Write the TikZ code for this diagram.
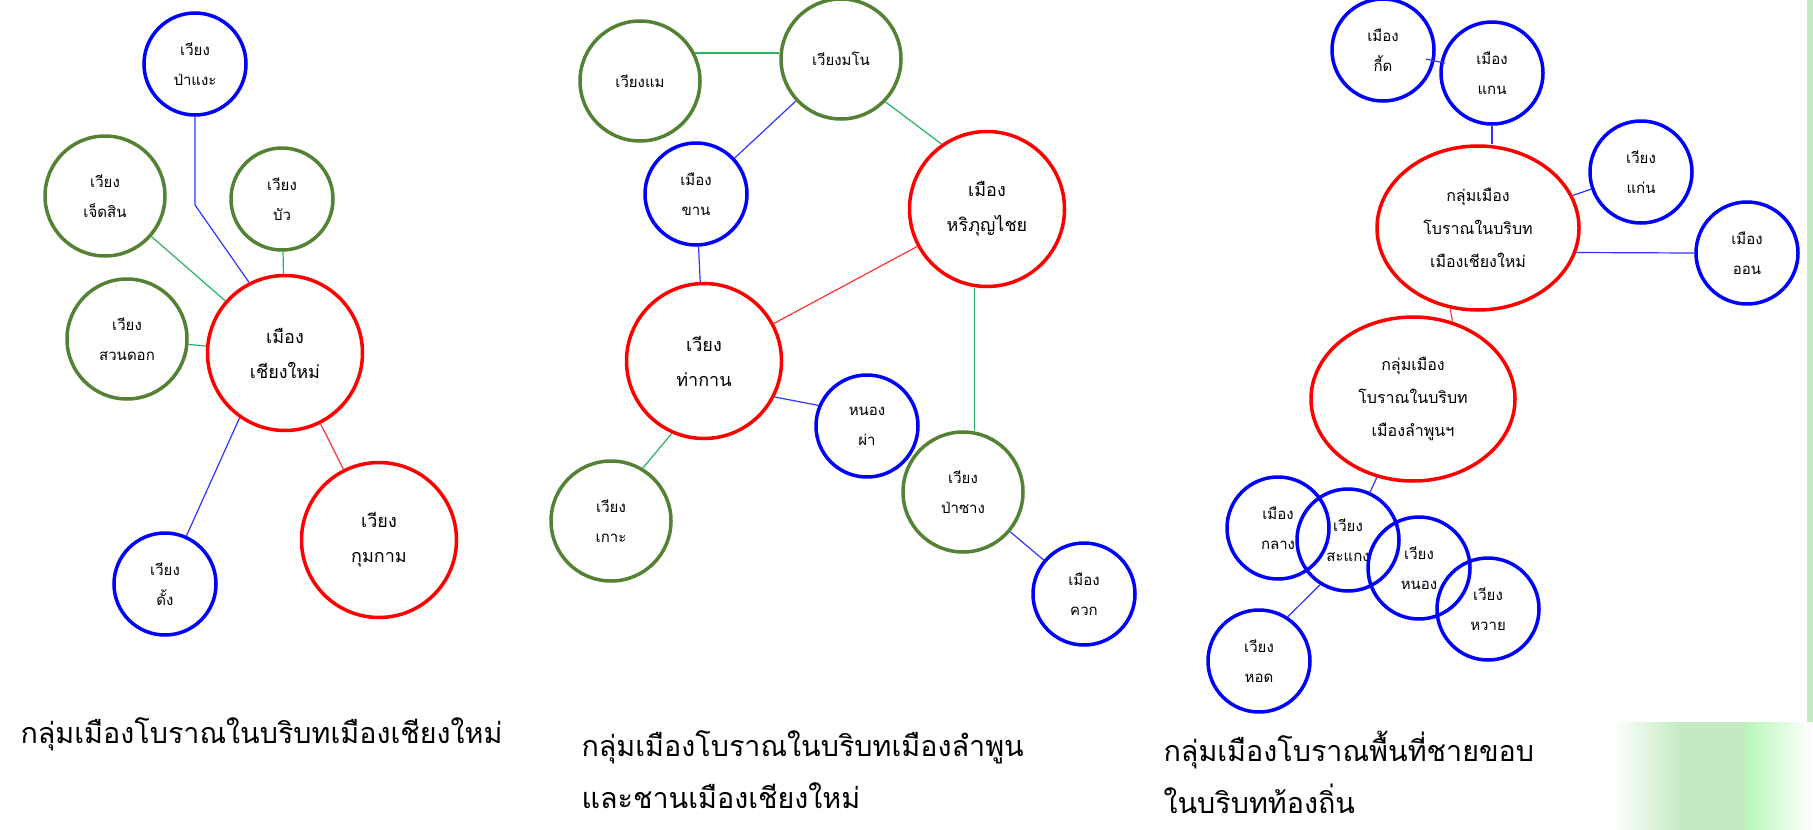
\documentclass[tikz,border=0pt]{standalone}
\usepackage{fontspec}
\newfontfamily\thaifont[Script=Thai]{Loma}
\usetikzlibrary{shapes.geometric}

\definecolor{cityred}{RGB}{255,0,0}
\definecolor{cityblue}{RGB}{0,0,255}
\definecolor{cityolive}{RGB}{84,130,53}
\definecolor{linkgreen}{RGB}{40,180,100}
\definecolor{leaf}{RGB}{196,234,196}

\begin{document}
\begin{tikzpicture}[
    x=1pt, y=-1pt,
    % Styles
    town/.style={circle, line width=3.5pt, inner sep=0pt, align=center, font=\thaifont\fontsize{15}{30}\selectfont},
    minor/.style={town, draw=cityblue, minimum size=102pt},
    satellite/.style={town, draw=cityolive, minimum size=120pt},
    capital/.style={town, draw=cityred, minimum size=155pt, font=\thaifont\fontsize{18}{35}\selectfont},
    cluster/.style={ellipse, draw=cityred, line width=3.5pt, inner sep=0pt, minimum width=202pt, minimum height=164pt, align=center, font=\thaifont\fontsize{16}{33}\selectfont},
    bluelink/.style={cityblue!80, line width=1.2pt},
    greenlink/.style={linkgreen, line width=1.2pt},
    redlink/.style={cityred!80, line width=1.2pt},
    caption/.style={anchor=west, align=left, font=\thaifont\fontsize{28.7}{52}\selectfont},
]

% Page and leaf decoration
\fill[white] (0,0) rectangle (1813,830);
\useasboundingbox (0,0) rectangle (1813,830);
\fill[leaf] (1807,0) rectangle (1813,722);
\shade[left color=white, right color=leaf] (1613,722) rectangle (1680,830);
\fill[leaf] (1680,722) rectangle (1745,830);
\shade[left color=leaf!70!green!60!white, right color=white] (1745,722) rectangle (1813,830);

% LEFT: Chiang Mai
\node[minor] (pangae) at (195,64) {เวียง\\ป่าแงะ};
\node[satellite] (chetsin) at (105,196) {เวียง\\เจ็ดสิน};
\node[satellite, minimum size=102pt] (bua) at (282,199) {เวียง\\บัว};
\node[satellite] (suandok) at (127,339) {เวียง\\สวนดอก};
\node[capital] (chiangmai) at (285,353) {เมือง\\เชียงใหม่};
\node[minor] (dang) at (165,584) {เวียง\\ดั้ง};
\node[capital] (kumkam) at (379,540) {เวียง\\กุมกาม};

\coordinate (pangae-bend) at (195,205);
\draw[bluelink] (pangae.south) -- (pangae-bend) -- (chiangmai.117);
\draw[greenlink] (chetsin) -- (chiangmai);
\draw[greenlink] (bua) -- (chiangmai);
\draw[greenlink] (suandok) -- (chiangmai);
\draw[bluelink] (chiangmai.235) -- (dang.66);
\draw[redlink] (chiangmai) -- (kumkam);

% MIDDLE: Lamphun and Chiang Mai outskirts
\node[satellite] (wiangmae) at (640,81) {เวียงแม};
\node[satellite] (wiangmano) at (841,59) {เวียงมโน};
\node[minor] (khan) at (696,194) {เมือง\\ขาน};
\node[capital] (hariphun) at (987,209) {เมือง\\หริภุญไชย};
\node[capital] (thakan) at (704,361) {เวียง\\ท่ากาน};
\node[minor] (nongpha) at (867,426) {หนอง\\ผ่า};
\node[satellite] (koh) at (611,521) {เวียง\\เกาะ};
\node[satellite] (pasang) at (963,492) {เวียง\\ป่าซาง};
\node[minor] (khuak) at (1084,594) {เมือง\\ควก};

\draw[greenlink] (wiangmae.27) -- (wiangmae.27 -| wiangmano.west);
\draw[bluelink] (wiangmano) -- (khan);
\draw[greenlink] (wiangmano.-44) -- (hariphun.125);
\draw[bluelink] (khan) -- (thakan);
\draw[redlink] (hariphun) -- (thakan);
\draw[greenlink] (pasang.79) -- (pasang.79 |- hariphun.south);
\draw[bluelink] (thakan.-27) -- (nongpha.157);
\draw[greenlink] (thakan.246) -- (koh.59);
\draw[bluelink] (pasang) -- (khuak);

% RIGHT: local margins
\node[minor] (kid) at (1383,50) {เมือง\\กี้ด};
\node[minor] (kaen) at (1492,73) {เมือง\\แกน};
\node[minor] (kaeng) at (1641,172) {เวียง\\แก่น};
\node[minor] (muangon) at (1747,253) {เมือง\\ออน};
\node[cluster] (cmgroup) at (1478,228) {กลุ่มเมือง\\โบราณในบริบท\\เมืองเชียงใหม่};
\node[cluster, minimum width=204pt] (lamphun) at (1413,399) {กลุ่มเมือง\\โบราณในบริบท\\เมืองลำพูนฯ};
\node[minor] (klang) at (1278,528) {เมือง\\กลาง};
\node[minor] (sakaeng) at (1348,540) {เวียง\\สะแกง};
\node[minor] (nong) at (1419,568) {เวียง\\หนอง};
\node[minor] (wai) at (1488,609) {เวียง\\หวาย};
\node[minor] (hod) at (1259,661) {เวียง\\หอด};

\draw[bluelink, shorten <=-9pt, shorten >=-5pt] (kid) -- (kaen);
\draw[bluelink] (kaen.south) -- (kaen.south |- cmgroup.north);
\draw[bluelink] (cmgroup) -- (kaeng);
\draw[bluelink] (muangon.west) -- (cmgroup.-14);
\draw[redlink] (lamphun.63) -- (cmgroup.-109);
\draw[bluelink] (lamphun) -- (sakaeng);
\draw[bluelink] (sakaeng.238) -- (hod.57);

% Captions
\node[caption] (cap-left) at (17,734) {กลุ่มเมืองโบราณในบริบทเมืองเชียงใหม่};
\node[caption] (cap-mid) at (578,770) {กลุ่มเมืองโบราณในบริบทเมืองลำพูน\\และชานเมืองเชียงใหม่};
\node[caption] (cap-right) at (1160,772) {กลุ่มเมืองโบราณพื้นที่ชายขอบ\\ในบริบทท้องถิ่น};

\end{tikzpicture}
\end{document}
